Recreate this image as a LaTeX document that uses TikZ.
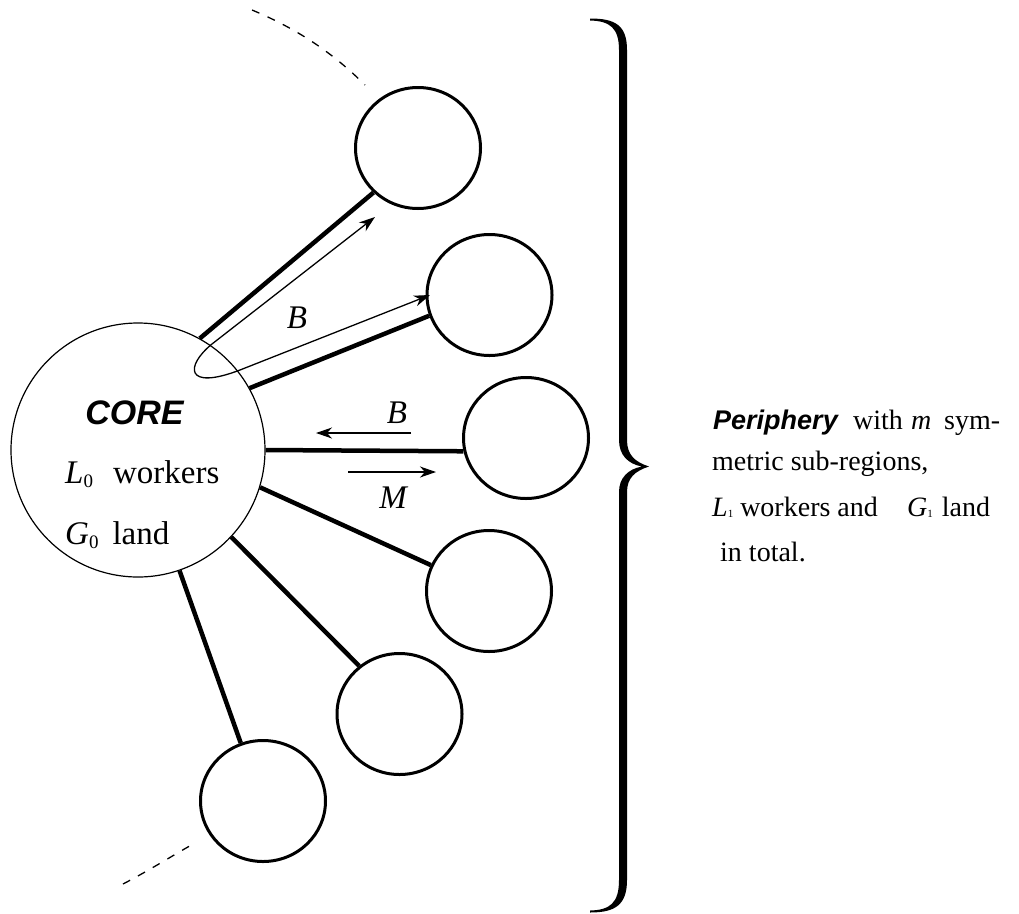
\documentclass[tikz,border=0pt]{standalone}
\usepackage{fontspec}
\setmainfont{Liberation Serif}
\setsansfont{Liberation Sans}
\usetikzlibrary{shapes.geometric,arrows.meta}
\begin{document}
\begin{tikzpicture}[x=1pt,y=-1pt,
  region/.style={draw, line width=3pt, ellipse, minimum width=125pt, minimum height=121pt, inner sep=0pt},
  core/.style={draw, line width=1.2pt, circle, minimum size=254pt, inner sep=0pt},
  link/.style={line width=4.5pt},
  flow/.style={line width=1.3pt, -{Stealth[length=16pt,width=11pt,inset=5pt]}},
  rim/.style={line width=1.3pt, dash pattern=on 8pt off 9pt},
  lbl/.style={font=\fontsize{33}{36}\selectfont\itshape, inner sep=0pt},
  txt/.style={font=\fontsize{33}{36}\selectfont, inner sep=0pt, anchor=base west},
  side/.style={font=\fontsize{28}{32}\selectfont, inner sep=0pt, anchor=base west},
  head/.style={font=\fontsize{34}{36}\selectfont\sffamily\bfseries\itshape, inner sep=0pt},
]
\useasboundingbox (0,0) rectangle (1019,913);

% core region
\node[core] (core) at (138,450) {};
\node[head] (coretitle) at (134.5,413) {CORE};
\node[txt] (coreL) at (65,483) {\itshape L\upshape\raisebox{-4pt}{\fontsize{19}{19}\selectfont 0}\hspace{20pt}workers};
\node[txt] (coreG) at (65,544) {\itshape G\upshape\raisebox{-4pt}{\fontsize{19}{19}\selectfont 0}\hspace{14pt}land};

% peripheral sub-regions
\node[region] (p1) at (418,148) {};
\node[region] (p2) at (489.5,295) {};
\node[region] (p3) at (526,438) {};
\node[region] (p4) at (489,591) {};
\node[region] (p5) at (399.5,714) {};
\node[region] (p6) at (263,801) {};

% links core -- sub-regions
\draw[link] (core.61.7) -- (p1.225.6);
\draw[link] (core.-0.9) -- (p3.192.7);
\draw[link] (core.29.6) -- (p2.199.5);
\draw[link] (core.-17.6) -- (p4.156);
\draw[link] (core.-43) -- (p5.130);
\draw[link] (core.-71.8) -- (p6.111);

% flows B out of the core (looped double arrow)
\coordinate (t1) at (375,217);
\coordinate (t2) at (430,295);
\draw[line width=1.3pt, {Stealth[length=16pt,width=11pt,inset=5pt]}-{Stealth[length=16pt,width=11pt,inset=5pt]}]
  (t1) -- (212,344) .. controls (185,366) and (185,391) .. (240,370) -- (t2);
\node[lbl] (b1) at (297,318) {B};

% flows along the middle link
\coordinate (bs) at (411,433);
\coordinate (be) at (316,433);
\draw[flow] (bs) -- (be);
\node[lbl] (b2) at (397,413) {B};
\coordinate (ms) at (348,472);
\coordinate (me) at (436,472);
\draw[flow] (ms) -- (me);
\node[lbl] (mlab) at (393,498) {M};

% dashed continuation of the ring
\draw[rim] (252,10) .. controls (300,30) and (335,55) .. (365,85);
\draw[rim] (123,884) .. controls (150,870) and (175,854) .. (195,843);

% curly brace
\fill (590,18.5) .. controls (615,18.5) and (627,25) .. (627,50) -- (627,440)
  .. controls (627,455) and (635,462) .. (649,466.5)
  .. controls (635,471) and (627,478) .. (627,492) -- (627,880)
  .. controls (627,905) and (615,912.5) .. (590,912.5)
  -- (590,910.5) .. controls (610,910) and (619,903) .. (619,880) -- (619,492)
  .. controls (619,478) and (628,469) .. (642,466.5)
  .. controls (628,464) and (619,455) .. (619,440) -- (619,50)
  .. controls (619,28) and (610,21) .. (590,20.5) -- cycle;

% periphery description
\node[head, font=\fontsize{27}{30}\selectfont\sffamily\bfseries\itshape, anchor=base west] (per) at (713,429) {Periphery};
\node[side] (perw) at (853,429) {with};
\node[side] (perm) at (911,429) {\itshape m};
\node[side] (pers) at (944,429) {sym-};
\node[side] (per2) at (712,470) {metric sub-regions,};
\node[side] (per3) at (712,516) {\textit{L}\raisebox{-1pt}{\fontsize{11}{11}\selectfont 1} workers and};
\node[side] (per4) at (907,516) {\textit{G}\raisebox{-1pt}{\fontsize{11}{11}\selectfont 1}\hspace{9pt}land};
\node[side] (per5) at (720,561) {in total.};
\end{tikzpicture}
\end{document}
